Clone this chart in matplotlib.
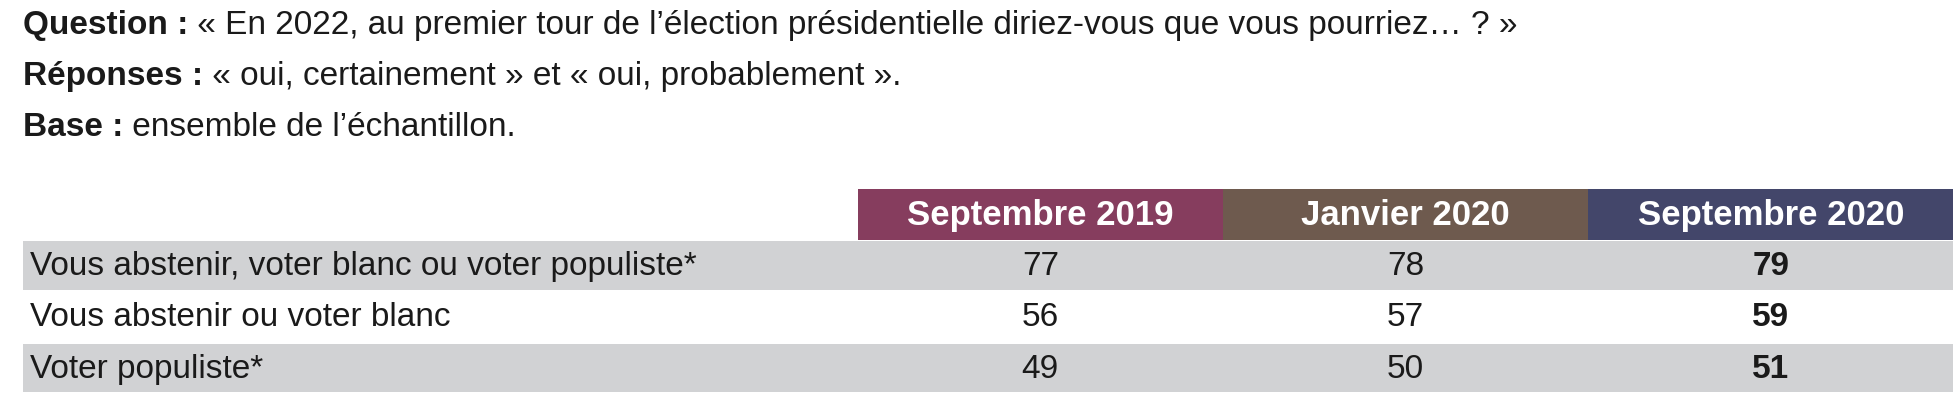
import matplotlib
matplotlib.use("Agg")
import matplotlib.pyplot as plt
from matplotlib.patches import Rectangle

plt.rcParams["font.family"] = ["Liberation Sans Narrow", "Liberation Sans", "DejaVu Sans"]

intro = [("Question :", " « En 2022, au premier tour de l’élection présidentielle diriez-vous que vous pourriez… ? »"),
         ("Réponses :", " « oui, certainement » et « oui, probablement »."),
         ("Base :", " ensemble de l’échantillon.")]
columns = ["Septembre 2019", "Janvier 2020", "Septembre 2020"]
col_colors = ["#863d5e", "#6e5a4e", "#43466a"]
rows = ["Vous abstenir, voter blanc ou voter populiste*",
        "Vous abstenir ou voter blanc",
        "Voter populiste*"]
values = [[77, 78, 79], [56, 57, 59], [49, 50, 51]]

W, H = 1560, 324
fig = plt.figure(figsize=(19.56, 4.06), dpi=100)
ax = fig.add_axes([0, 0, 1, 1])
ax.set_xlim(0, W)
ax.set_ylim(H, 0)
ax.axis("off")

fs = 24
for i, (b, t) in enumerate(intro):
    y = 20 + i * 41
    tb = ax.text(18, y, b, fontsize=fs, fontweight="bold", va="center", color="#1a1a1a")
    fig.canvas.draw()
    bb = tb.get_window_extent().transformed(ax.transData.inverted())
    ax.text(bb.x1, y, t, fontsize=fs, va="center", color="#1a1a1a")

x0, cw = 684, 291.3
hy, hh, rh = 152, 40, 41
for j, (c, col) in enumerate(zip(columns, col_colors)):
    ax.add_patch(Rectangle((x0 + j * cw, hy), cw, hh, color=col, lw=0))
    ax.text(x0 + (j + 0.5) * cw, hy + hh / 2, c, fontsize=25, fontweight="bold",
            color="white", ha="center", va="center")

for i, (r, vals) in enumerate(zip(rows, values)):
    ry = hy + hh + i * rh
    if i % 2 == 0:
        ax.add_patch(Rectangle((18, ry + 1), x0 + 3 * cw - 18, rh - 2, color="#d1d2d4", lw=0))
    ax.text(24, ry + rh / 2, r, fontsize=fs, va="center", color="#1a1a1a")
    for j, v in enumerate(vals):
        ax.text(x0 + (j + 0.5) * cw, ry + rh / 2, str(v), fontsize=fs, ha="center", va="center",
                color="#1a1a1a", fontweight="bold" if j == 2 else "normal")

fig.savefig("out.png", dpi=100)
